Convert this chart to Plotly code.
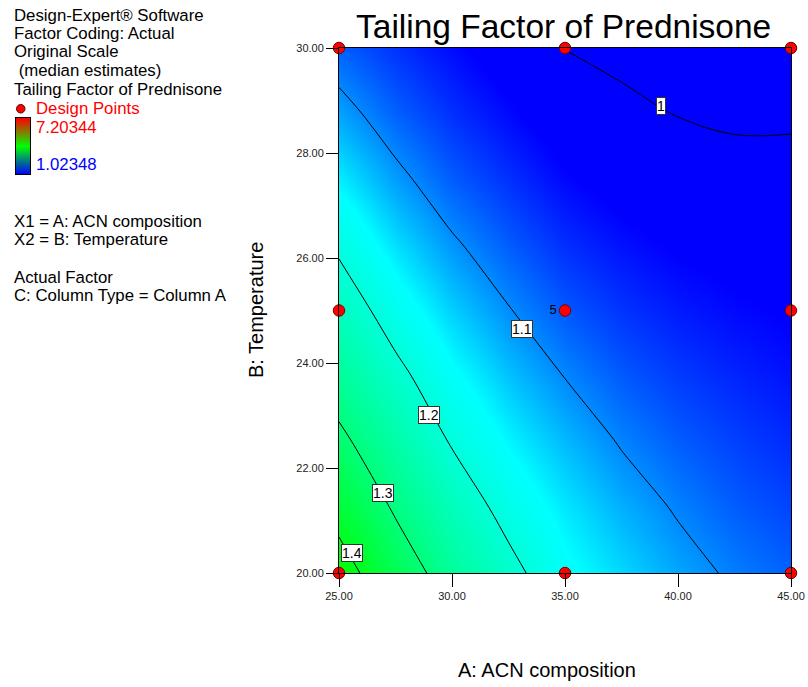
import plotly.graph_objects as go

# ---------------- data ----------------
acn = [25, 27.5, 30, 32.5, 35, 37.5, 40, 42.5, 45]               # A: ACN composition
temp = [20, 21.25, 22.5, 23.75, 25, 26.25, 27.5, 28.75, 30]      # B: Temperature
# estimated Tailing Factor surface (rows = temp, cols = acn)
tailing = [
    [1.434, 1.342, 1.266, 1.215, 1.167, 1.140, 1.115, 1.094, 1.079],
    [1.372, 1.2915, 1.232, 1.183, 1.148, 1.1195, 1.096, 1.077, 1.0646],
    [1.314, 1.2524, 1.196, 1.156, 1.125, 1.097, 1.0775, 1.063, 1.0511],
    [1.268, 1.2133, 1.166, 1.129, 1.099, 1.0756, 1.060, 1.048, 1.0386],
    [1.229, 1.1776, 1.136, 1.102, 1.075, 1.056, 1.043, 1.034, 1.027],
    [1.192, 1.1438, 1.1055, 1.077, 1.053, 1.038, 1.027, 1.021, 1.0163],
    [1.152, 1.1099, 1.077, 1.054, 1.033, 1.019, 1.0125, 1.0075, 1.0055],
    [1.114, 1.0795, 1.054, 1.034, 1.015, 1.0055, 0.9993, 0.9965, 0.9975],
    [1.079, 1.055, 1.035, 1.016, 0.999, 0.994, 0.990, 0.987, 0.990],
]
contour_start, contour_end, contour_step = 1.0, 1.4, 0.1
label_text = ["1", "1.1", "1.2", "1.3", "1.4"]
label_acn = [39.25, 33.1, 28.98, 26.96, 25.56]
label_temp = [28.90, 24.65, 23.01, 21.52, 20.39]

design_acn = [25, 25, 25, 35, 35, 35, 45, 45, 45]
design_temp = [20, 25, 30, 20, 25, 30, 20, 25, 30]
design_reps = ["", "", "", "", "5", "", "", "", ""]

x_ticks = [25, 30, 35, 40, 45]
y_ticks = [20, 22, 24, 26, 28, 30]

legend_max = "7.20344"
legend_min = "1.02348"
legend_gradient = [[0, 0], [1, 1], [2, 2]]

info_lines = [
    "Design-Expert® Software",
    "Factor Coding: Actual",
    "Original Scale",
    " (median estimates)",
    "Tailing Factor of Prednisone",
]
factor_lines = [
    "X1 = A: ACN composition",
    "X2 = B: Temperature",
    "",
    "Actual Factor",
    "C: Column Type = Column A",
]

# ---------------- figure ----------------
W, H = 808, 687
def px(xp):
    return xp / W
def py(yp):
    return 1 - yp / H

FONT = "Liberation Sans, Arial, sans-serif"
TXT = 16.8

fig = go.Figure()

fig.add_trace(go.Heatmap(
    x=acn, y=temp, z=tailing, zsmooth="best", zmin=1.03, zmax=1.43,
    colorscale=[[0, "rgb(0,0,255)"], [0.325, "rgb(0,255,255)"], [1, "rgb(0,255,0)"]],
    showscale=False, hoverinfo="skip"))

fig.add_trace(go.Contour(
    x=acn, y=temp, z=tailing,
    contours=dict(start=contour_start, end=contour_end, size=contour_step,
                  coloring="none", showlabels=False),
    line=dict(color="black", width=1, smoothing=1),
    showscale=False, hoverinfo="skip"))

fig.add_trace(go.Scatter(
    x=design_acn, y=design_temp, mode="markers+text", text=design_reps,
    textposition="middle left", textfont=dict(family=FONT, size=13, color="black"),
    marker=dict(size=11.5, color="red", line=dict(color="rgb(120,0,0)", width=1)),
    cliponaxis=False, hoverinfo="skip"))

fig.add_trace(go.Heatmap(
    z=legend_gradient, x=[0, 1], y=[0, 1, 2], zsmooth="best",
    colorscale=[[0, "rgb(0,0,255)"], [0.5, "rgb(0,255,0)"], [1, "rgb(255,0,0)"]],
    showscale=False, xaxis="x2", yaxis="y2", hoverinfo="skip"))

annotations = []
for t, xa, ya in zip(label_text, label_acn, label_temp):
    annotations.append(dict(x=xa, y=ya, xref="x", yref="y", text=t, showarrow=False,
                            font=dict(family=FONT, size=14, color="black"),
                            bgcolor="white", bordercolor="#333333", borderwidth=1, borderpad=0))

# title and axis titles
annotations.append(dict(x=px(563), y=py(27), xref="paper", yref="paper",
                        text="Tailing Factor of Prednisone", showarrow=False,
                        font=dict(family=FONT, size=33.5, color="black"),
                        xanchor="center", yanchor="middle"))
annotations.append(dict(x=px(547), y=py(670), xref="paper", yref="paper",
                        text="A: ACN composition", showarrow=False,
                        font=dict(family=FONT, size=20, color="black"),
                        xanchor="center", yanchor="middle"))
annotations.append(dict(x=px(256), y=py(310), xref="paper", yref="paper",
                        text="B: Temperature", showarrow=False, textangle=-90,
                        font=dict(family=FONT, size=20, color="black"),
                        xanchor="center", yanchor="middle"))

info_y = [15, 33.5, 52, 70.5, 89]
for t, yy in zip(info_lines, info_y):
    annotations.append(dict(x=px(12), y=py(yy), xref="paper", yref="paper", text=t,
                            showarrow=False, font=dict(family=FONT, size=TXT, color="black"),
                            xanchor="left", yanchor="middle"))
annotations.append(dict(x=px(34), y=py(108.5), xref="paper", yref="paper", text="Design Points",
                        showarrow=False, font=dict(family=FONT, size=TXT, color="red"),
                        xanchor="left", yanchor="middle"))
annotations.append(dict(x=px(34), y=py(127.5), xref="paper", yref="paper", text=legend_max,
                        showarrow=False, font=dict(family=FONT, size=TXT, color="red"),
                        xanchor="left", yanchor="middle"))
annotations.append(dict(x=px(34), y=py(164.5), xref="paper", yref="paper", text=legend_min,
                        showarrow=False, font=dict(family=FONT, size=TXT, color="blue"),
                        xanchor="left", yanchor="middle"))
factor_y = [221, 239.5, 258, 277, 295.5]
for t, yy in zip(factor_lines, factor_y):
    if t:
        annotations.append(dict(x=px(12), y=py(yy), xref="paper", yref="paper", text=t,
                                showarrow=False, font=dict(family=FONT, size=TXT, color="black"),
                                xanchor="left", yanchor="middle"))

shapes = [dict(type="circle", xref="paper", yref="paper",
               x0=px(16.5), x1=px(25), y0=py(113), y1=py(104.5),
               fillcolor="red", line=dict(color="rgb(90,0,0)", width=1))]

axis_common = dict(showgrid=False, zeroline=False, showline=True, linecolor="black",
                   linewidth=1, mirror=True, ticks="outside", tickcolor="black",
                   tickfont=dict(family=FONT, size=11, color="#222222"), tickformat=".2f",
                   automargin=False)

fig.update_layout(
    width=W, height=H, margin=dict(l=0, r=0, t=0, b=0, pad=0, autoexpand=False),
    paper_bgcolor="white", plot_bgcolor="white", showlegend=False,
    xaxis=dict(domain=[px(339), px(791)], range=[25, 45], tickvals=x_ticks,
               ticklen=13, **axis_common),
    yaxis=dict(domain=[py(573), py(48)], range=[20, 30], tickvals=y_ticks,
               ticklen=12, **axis_common),
    xaxis2=dict(domain=[px(16), px(30)], range=[0, 1], anchor="y2", showticklabels=False,
                ticks="", showgrid=False, zeroline=False, showline=True, mirror=True,
                linecolor="black", linewidth=1),
    yaxis2=dict(domain=[py(174), py(118)], range=[0, 2], anchor="x2", showticklabels=False,
                ticks="", showgrid=False, zeroline=False, showline=True, mirror=True,
                linecolor="black", linewidth=1),
    annotations=annotations, shapes=shapes,
)

fig.write_html("out.html")
